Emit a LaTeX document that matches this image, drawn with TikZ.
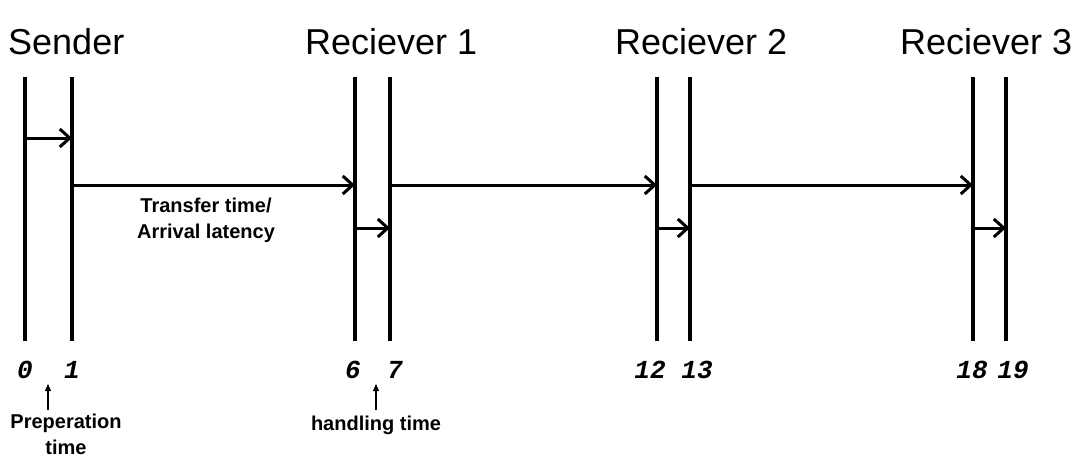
\documentclass[tikz,border=0pt]{standalone}
\usepackage{fontspec}
\setmainfont{Liberation Sans}
\newfontfamily\numfont{Liberation Mono}
\usetikzlibrary{arrows.meta}
\begin{document}
\begin{tikzpicture}[x=1pt,y=-1pt,
  tl/.style={line width=3.2pt},
  msg/.style={line width=3pt,-{Straight Barb[length=10pt,width=18pt,line width=3pt]}},
  ptr/.style={line width=1.2pt,-{Triangle[length=7pt,width=6pt]}},
  head/.style={font=\fontsize{36}{40}\selectfont,anchor=base west,inner sep=0pt},
  num/.style={font=\numfont\bfseries\itshape\fontsize{26}{26}\selectfont,inner sep=0pt,anchor=base},
  lab/.style={font=\bfseries\fontsize{20}{26}\selectfont,align=center,inner sep=0pt}]
\useasboundingbox (0,0) rectangle (1075,460);
% headers
\node[head] (hs) at (8,55) {Sender};
\node[head] (h1) at (305,55) {Reciever 1};
\node[head] (h2) at (615,55) {Reciever 2};
\node[head] (h3) at (900,55) {Reciever 3};
% timelines
\foreach \n/\x in {a/25,b/72,c/355,d/390,e/657,f/690,g/973,h/1006}{
  \coordinate (\n t) at (\x,77);
  \coordinate (\n b) at (\x,341);
  \draw[tl] (\n t) -- (\n b);
}
% arrows
\coordinate (p0) at (25,138); \coordinate (p1) at (72,138);
\draw[msg] (p0) -- (p1);
\coordinate (bL) at (72,185); \coordinate (cL) at (355,185);
\coordinate (dL) at (390,185); \coordinate (eL) at (657,185);
\coordinate (fL) at (690,185); \coordinate (gL) at (973,185);
\draw[msg] (bL) -- (cL);
\draw[msg] (dL) -- (eL);
\draw[msg] (fL) -- (gL);
\coordinate (cS) at (355,228); \coordinate (dS) at (390,228);
\coordinate (eS) at (657,228); \coordinate (fS) at (690,228);
\coordinate (gS) at (973,228); \coordinate (hS) at (1006,228);
\draw[msg] (cS) -- (dS);
\draw[msg] (eS) -- (fS);
\draw[msg] (gS) -- (hS);
% numbers
\node[num] (n0) at (25,378) {0};
\node[num] (n1) at (72,378) {1};
\node[num] (n6) at (353,378) {6};
\node[num] (n7) at (395,378) {7};
\node[num] (n12) at (650,378) {12};
\node[num] (n13) at (697,378) {13};
\node[num] (n18) at (972,378) {18};
\node[num] (n19) at (1013,378) {19};
% labels
\node[lab] (tt) at (206,220) {Transfer time/\\Arrival latency};
\node[lab] (prep) at (66,434) {Preperation\\time};
\node[lab] (hand) at (376,425) {handling time};
\coordinate (pa) at (48,410); \coordinate (pb) at (48,384);
\coordinate (ha) at (376,410); \coordinate (hb) at (376,384);
\draw[ptr] (pa) -- (pb);
\draw[ptr] (ha) -- (hb);
\end{tikzpicture}
\end{document}
